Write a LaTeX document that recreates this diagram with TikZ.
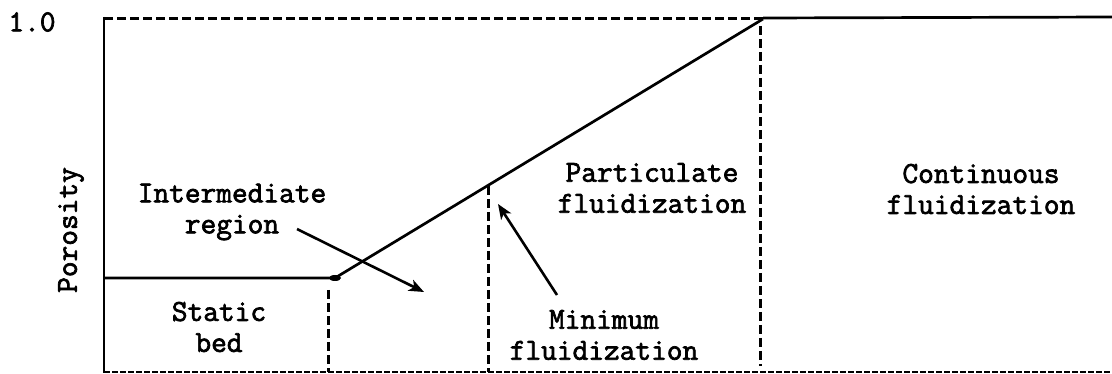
\documentclass[tikz,border=0pt]{standalone}
\usepackage{fontspec}
\usetikzlibrary{arrows.meta}
\newcommand{\heavytext}[1]{\special{pdf:literal direct 2 Tr 0.7 w}#1\special{pdf:literal direct 0 Tr}}
\begin{document}
\begin{tikzpicture}[x=1pt,y=-1pt,
  lbl/.style={font=\ttfamily\fontsize{30.5}{31}\selectfont, align=center, inner sep=0pt},
  solidln/.style={line width=2.7pt},
  dashln/.style={line width=3pt, dash pattern=on 9pt off 4pt},
  fineln/.style={line width=2.2pt, dash pattern=on 6pt off 2pt},
  ptr/.style={line width=2.6pt, -{Stealth[length=15pt,width=12pt,inset=4pt]}}]
\useasboundingbox (0,0) rectangle (1112,374);
% axes and frame
\draw[solidln] (104,17) -- (104,373);
\draw[dashln] (104,19) -- (763,19);
\draw[solidln] (763,18) -- (1112,17);
\draw[fineln] (104,372) -- (1112,372);
% porosity curve
\coordinate (c0) at (104,278);
\coordinate (c1) at (335,278);
\coordinate (c2) at (763,19);
\draw[solidln] (c0) -- (c1) -- (c2);
\fill (c1) ellipse (6pt and 3pt);
% region boundaries
\draw[dashln] (328,290) -- (328,372);
\draw[dashln] (488,186) -- (488,372);
\draw[dashln] (760,26) -- (760,366);
% labels
\node[lbl, rotate=90] (por) at (71,230) {\heavytext{Porosity}};
\node[lbl] (ir) at (232,212) {\heavytext{Intermediate}\\\heavytext{region}};
\node[lbl] (sb) at (219,327) {\heavytext{Static}\\\heavytext{bed}};
\node[lbl] (pf) at (652,188) {\heavytext{Particulate}\\\heavytext{fluidization}};
\node[lbl] (mf) at (604,335) {\heavytext{Minimum}\hspace{34pt}\\\heavytext{fluidization}};
\node[lbl] (cf) at (981,189) {\heavytext{Continuous}\\\heavytext{fluidization}};
\node[lbl] (one) at (32,22) {\heavytext{1.0}};
% pointers
\coordinate (irt) at (297,229);
\coordinate (irh) at (424,292);
\coordinate (mft) at (557,295);
\coordinate (mfh) at (498,204);
\draw[ptr] (irt) -- (irh);
\draw[ptr] (mft) -- (mfh);
\end{tikzpicture}
\end{document}
